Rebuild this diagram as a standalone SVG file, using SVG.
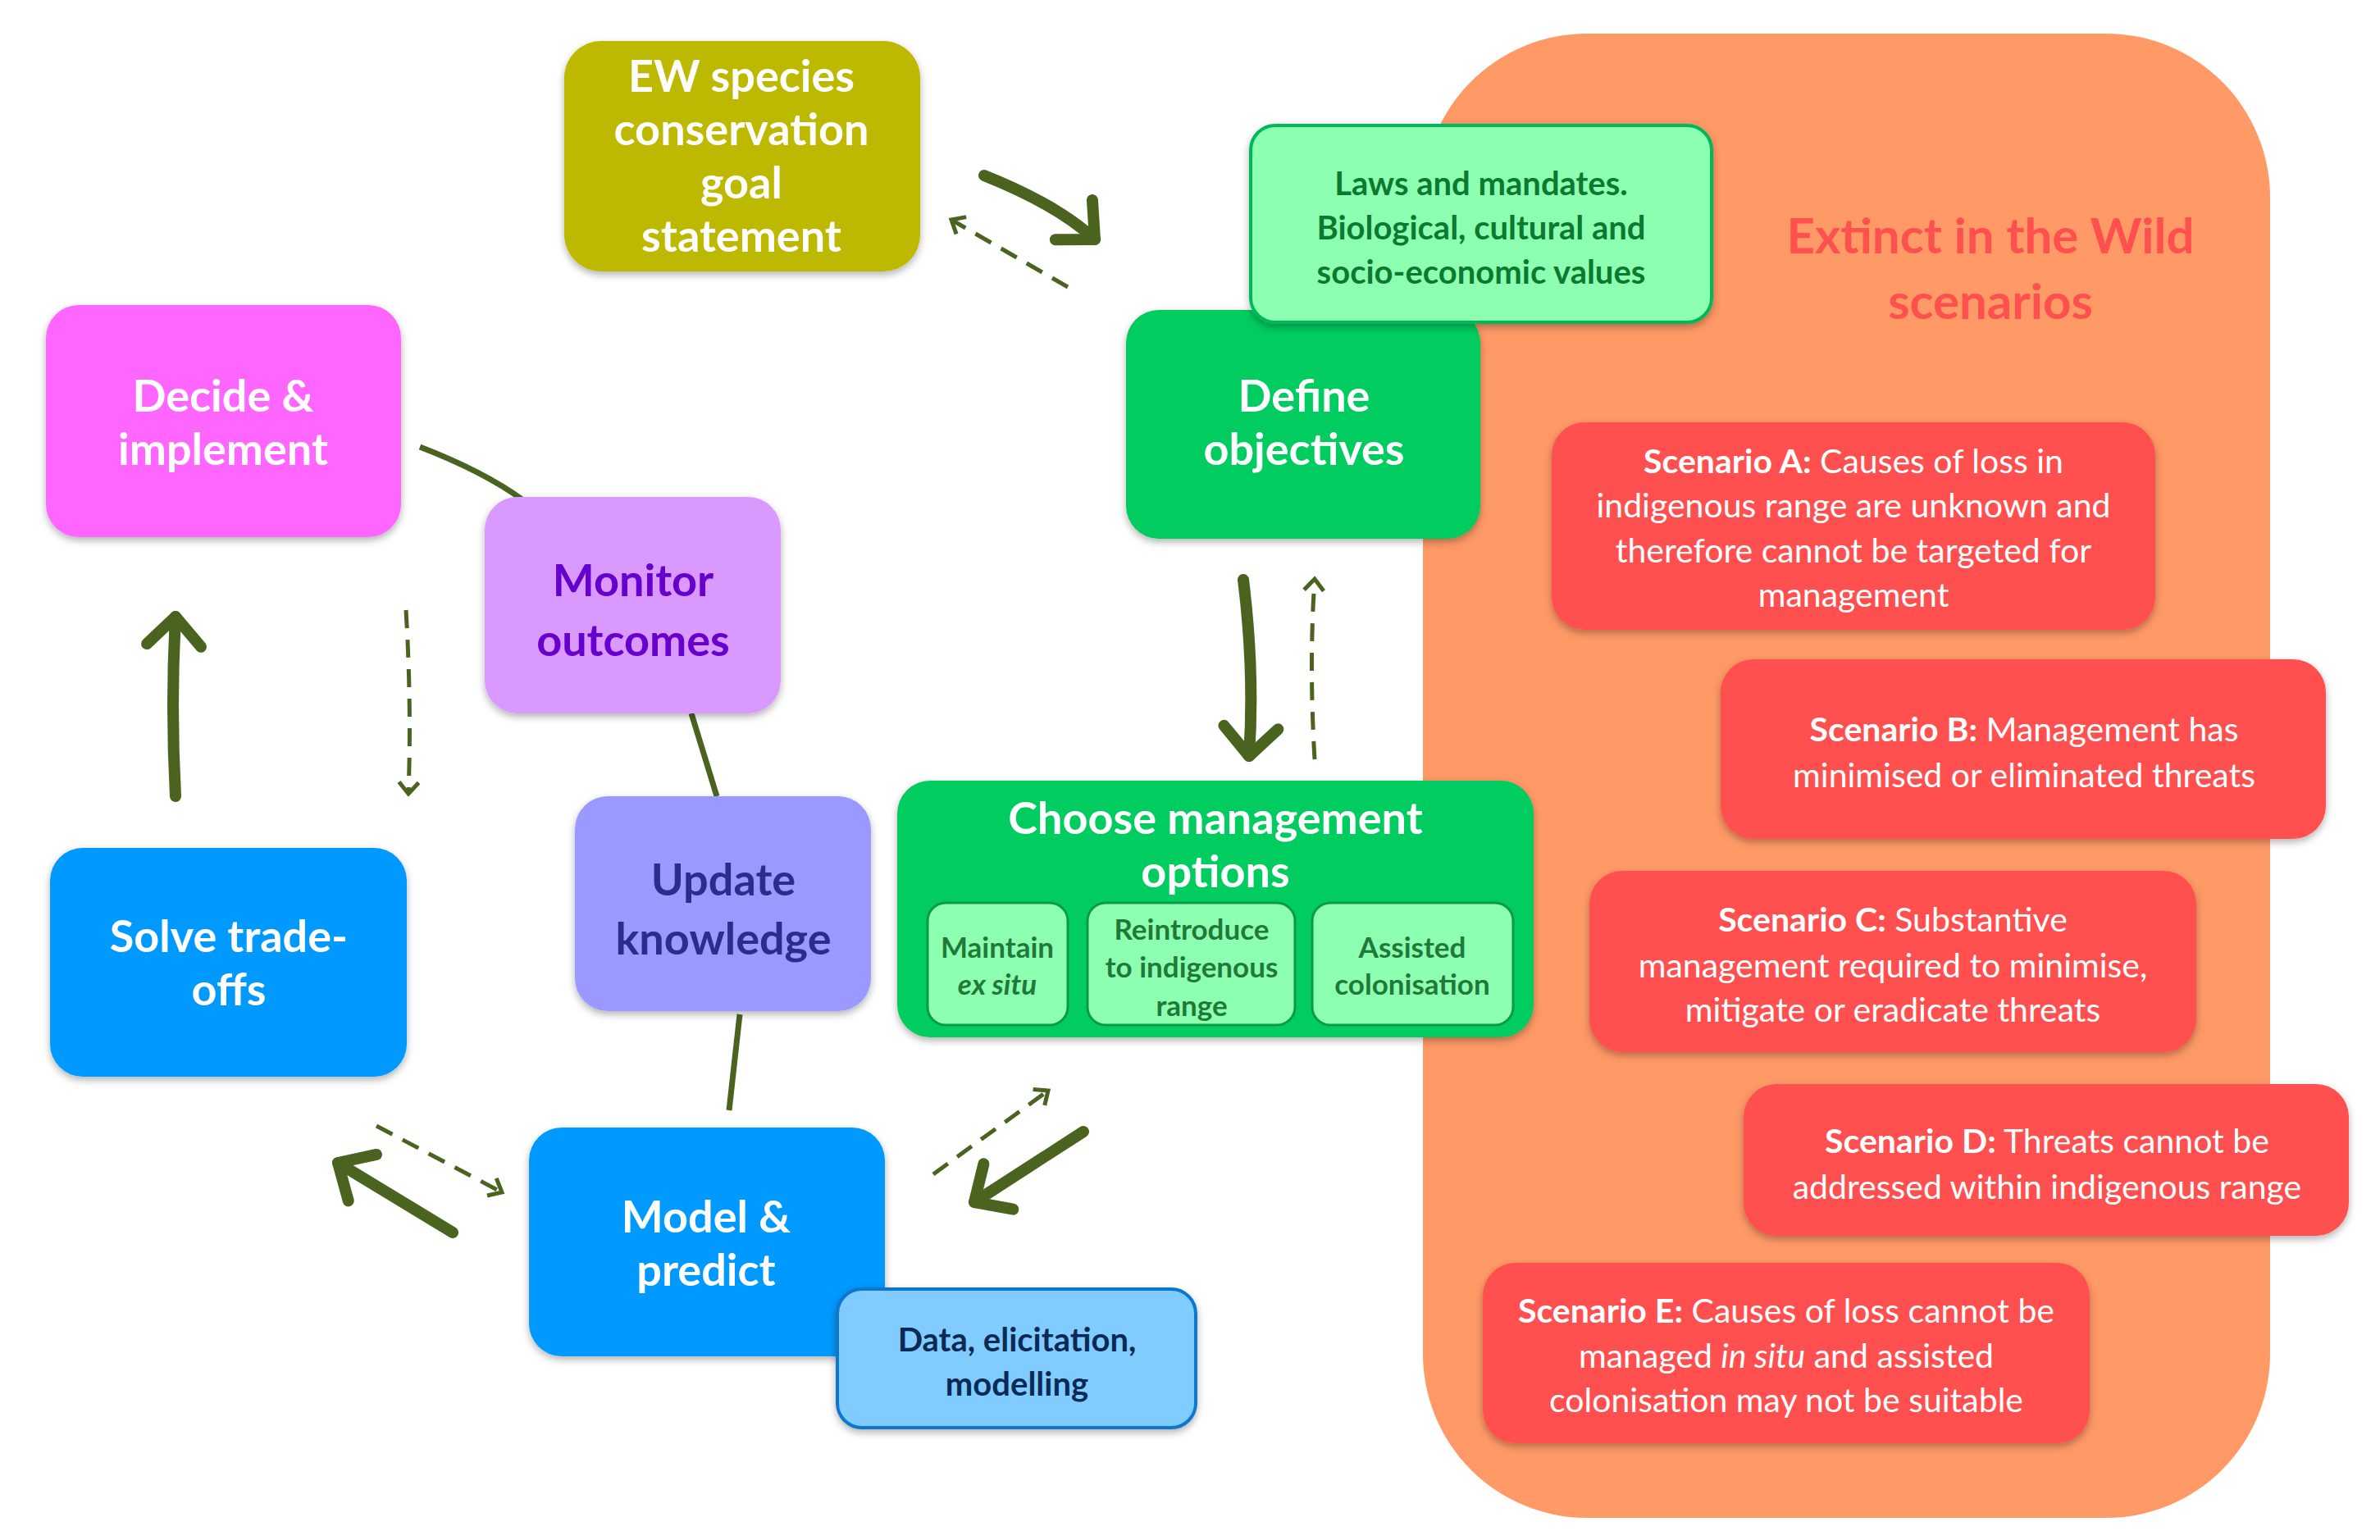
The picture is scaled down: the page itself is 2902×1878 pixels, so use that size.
<svg xmlns="http://www.w3.org/2000/svg" width="2902" height="1878" viewBox="0 0 2902 1878">
<style>
text{font-family:Lato,"Open Sans","Noto Sans",sans-serif;text-anchor:middle}
.n{font-size:54px;font-weight:700;fill:#fff}
.s{font-size:41px;fill:#fff}
.b{font-weight:700}
.sub{font-size:35px;font-weight:700;fill:#1F7A3A}
.sol{fill:none;stroke:#4A6420;stroke-width:14;stroke-linecap:round}
.das{fill:none;stroke:#4A6420;stroke-width:5;stroke-dasharray:22 14}
.ln{fill:none;stroke:#4A6420;stroke-width:7}
.sh{filter:url(#sh)}
</style>
<defs>
<filter id="sh" x="-10%" y="-10%" width="120%" height="130%"><feDropShadow dx="0" dy="4" stdDeviation="5" flood-color="#000" flood-opacity="0.3"/></filter>
<marker id="hs" markerUnits="userSpaceOnUse" markerWidth="90" markerHeight="90" refX="45" refY="45" orient="auto"><path d="M10,12 L45,45 L10,78" fill="none" stroke="#4A6420" stroke-width="14" stroke-linecap="round" stroke-linejoin="round"/></marker>
<marker id="hd" markerUnits="userSpaceOnUse" markerWidth="40" markerHeight="40" refX="20" refY="20" orient="auto"><path d="M6,8 L20,20 L6,32" fill="none" stroke="#4A6420" stroke-width="5"/></marker>
</defs>
<rect width="2902" height="1878" fill="#fff"/>
<g id="panel"><rect x="1735" y="41" width="1033" height="1810" rx="200" fill="#FF9966"/>
<text x="2427" y="309" font-size="60" font-weight="700" fill="#FF5050">Extinct in the Wild</text>
<text x="2427" y="389" font-size="60" font-weight="700" fill="#FF5050">scenarios</text></g>
<g id="connectors">
<path class="sol" d="M1200,214 Q1290,250 1335,292" marker-end="url(#hs)"/>
<path class="das" d="M1302,350 L1160,268" marker-end="url(#hd)"/>
<path class="sol" d="M1516,707 Q1530,820 1523,922" marker-end="url(#hs)"/>
<path class="das" d="M1603,926 Q1596,810 1603,706" marker-end="url(#hd)"/>
<path class="sol" d="M1321,1380 L1188,1466" marker-end="url(#hs)"/>
<path class="das" d="M1138,1432 L1278,1330" marker-end="url(#hd)"/>
<path class="sol" d="M552,1503 L412,1418" marker-end="url(#hs)"/>
<path class="das" d="M459,1373 L612,1454" marker-end="url(#hd)"/>
<path class="sol" d="M214,971 Q208,860 214,752" marker-end="url(#hs)"/>
<path class="das" d="M495,744 Q502,860 498,968" marker-end="url(#hd)"/>
<path class="ln" d="M512,545 Q590,575 638,610"/>
<path class="ln" d="M843,870 L874,971"/>
<path class="ln" d="M902,1237 L889,1354"/>
</g>
<g id="ew"><rect class="sh" x="688" y="50" width="434" height="281" rx="45" fill="#BDB800"/>
<text class="n" x="904" y="112">EW species</text><text class="n" x="904" y="177">conservation</text><text class="n" x="904" y="242">goal</text><text class="n" x="904" y="307">statement</text></g>
<g id="define"><rect class="sh" x="1373" y="378" width="432" height="279" rx="40" fill="#00CC5F"/>
<text class="n" x="1590" y="502">Define</text><text class="n" x="1590" y="567">objectives</text></g>
<g id="laws"><rect class="sh" x="1525" y="153" width="562" height="240" rx="30" fill="#8CFFB0" stroke="#00B85A" stroke-width="4"/>
<text x="1806" y="238" font-size="40" font-weight="700" fill="#0B7A30">Laws and mandates.</text>
<text x="1806" y="292" font-size="40" font-weight="700" fill="#0B7A30">Biological, cultural and</text>
<text x="1806" y="346" font-size="40" font-weight="700" fill="#0B7A30">socio-economic values</text></g>
<g id="decide"><rect class="sh" x="56" y="372" width="433" height="283" rx="40" fill="#FF66FF"/>
<text class="n" x="272" y="502">Decide &amp;</text><text class="n" x="272" y="567">implement</text></g>
<g id="monitor"><rect class="sh" x="591" y="606" width="361" height="264" rx="40" fill="#DA99FF"/>
<text class="n" x="772" y="727" fill="#6600CC" style="fill:#6600CC">Monitor</text><text class="n" x="772" y="800" style="fill:#6600CC">outcomes</text></g>
<g id="update"><rect class="sh" x="701" y="971" width="361" height="262" rx="40" fill="#9999FF"/>
<text class="n" x="882" y="1092" style="fill:#2B2D8C">Update</text><text class="n" x="882" y="1164" style="fill:#2B2D8C">knowledge</text></g>
<g id="choose"><rect class="sh" x="1094" y="952" width="776" height="313" rx="40" fill="#00CC5F"/>
<text class="n" x="1482" y="1017">Choose management</text><text class="n" x="1482" y="1082">options</text>
<rect x="1131" y="1101" width="171" height="149" rx="22" fill="#8CFFB0" stroke="#0B9A45" stroke-width="3"/>
<rect x="1326" y="1101" width="253" height="149" rx="22" fill="#8CFFB0" stroke="#0B9A45" stroke-width="3"/>
<rect x="1600" y="1101" width="245" height="149" rx="22" fill="#8CFFB0" stroke="#0B9A45" stroke-width="3"/>
<text class="sub" x="1216" y="1168">Maintain</text><text class="sub" x="1216" y="1213" font-style="italic" font-weight="400">ex situ</text>
<text class="sub" x="1453" y="1146">Reintroduce</text><text class="sub" x="1453" y="1192">to indigenous</text><text class="sub" x="1453" y="1239">range</text>
<text class="sub" x="1722" y="1168">Assisted</text><text class="sub" x="1722" y="1213">colonisation</text></g>
<g id="solve"><rect class="sh" x="61" y="1034" width="435" height="279" rx="40" fill="#0099FF"/>
<text class="n" x="279" y="1161">Solve trade-</text><text class="n" x="279" y="1226">offs</text></g>
<g id="model"><rect class="sh" x="645" y="1375" width="434" height="279" rx="40" fill="#0099FF"/>
<text class="n" x="861" y="1503">Model &amp;</text><text class="n" x="861" y="1568">predict</text></g>
<g id="data"><rect class="sh" x="1021" y="1572" width="437" height="169" rx="30" fill="#80CCFF" stroke="#1177CC" stroke-width="4"/>
<text x="1240" y="1648" font-size="40" font-weight="700" fill="#0A2A55">Data, elicitation,</text>
<text x="1240" y="1702" font-size="40" font-weight="700" fill="#0A2A55">modelling</text></g>
<g id="scenA"><rect class="sh" x="1892" y="515" width="736" height="253" rx="40" fill="#FF5050"/>
<text class="s" x="2260" y="577"><tspan class="b">Scenario A:</tspan> Causes of loss in</text>
<text class="s" x="2260" y="631">indigenous range are unknown and</text>
<text class="s" x="2260" y="686">therefore cannot be targeted for</text>
<text class="s" x="2260" y="740">management</text></g>
<g id="scenB"><rect class="sh" x="2098" y="804" width="738" height="219" rx="40" fill="#FF5050"/>
<text class="s" x="2468" y="904"><tspan class="b">Scenario B:</tspan> Management has</text>
<text class="s" x="2468" y="960">minimised or eliminated threats</text></g>
<g id="scenC"><rect class="sh" x="1938" y="1062" width="740" height="221" rx="40" fill="#FF5050"/>
<text class="s" x="2308" y="1136"><tspan class="b">Scenario C:</tspan> Substantive</text>
<text class="s" x="2308" y="1192">management required to minimise,</text>
<text class="s" x="2308" y="1246">mitigate or eradicate threats</text></g>
<g id="scenD"><rect class="sh" x="2126" y="1322" width="738" height="185" rx="40" fill="#FF5050"/>
<text class="s" x="2496" y="1406"><tspan class="b">Scenario D:</tspan> Threats cannot be</text>
<text class="s" x="2496" y="1462">addressed within indigenous range</text></g>
<g id="scenE"><rect class="sh" x="1808" y="1540" width="740" height="220" rx="40" fill="#FF5050"/>
<text class="s" x="2178" y="1613"><tspan class="b">Scenario E:</tspan> Causes of loss cannot be</text>
<text class="s" x="2178" y="1668">managed <tspan font-style="italic">in situ</tspan> and assisted</text>
<text class="s" x="2178" y="1722">colonisation may not be suitable</text></g>
</svg>
